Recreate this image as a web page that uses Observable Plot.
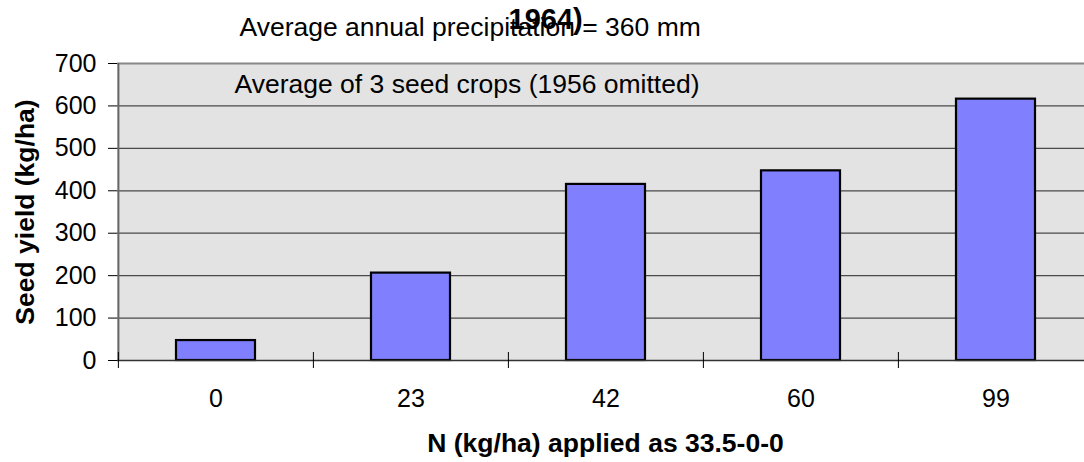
<!DOCTYPE html>
<html>
<head>
<meta charset="utf-8">
<script src="https://cdn.jsdelivr.net/npm/d3@7"></script>
<script src="https://cdn.jsdelivr.net/npm/@observablehq/plot@0.6"></script>
<style>
  html, body { margin: 0; padding: 0; background: #fff; }
  #chart { position: relative; width: 1084px; height: 462px; overflow: hidden; }
</style>
</head>
<body>
<div id="chart"></div>
<script>
// ---- data ----
const nRates = ["0", "23", "42", "60", "99"];
const seedYield = [47, 206, 415, 447, 616];
const yTicks = [0, 100, 200, 300, 400, 500, 600, 700];
const titleText = "Average annual precipitation = 360 mm";
const overTitle = "1964)";
const noteText = "Average of 3 seed crops (1956 omitted)";
const xTitle = "N (kg/ha) applied as 33.5-0-0";
const yTitle = "Seed yield (kg/ha)";

const rows = nRates.map((n, i) => ({n, v: seedYield[i]}));

// ---- layout ----
const W = 1084, H = 462;
const pLeft = 117, pTop = 63, pBottom = 360, pRight = 1093;
const step = (pRight - pLeft) / nRates.length;
const font = "Liberation Sans, Arial, sans-serif";
const tickFont = 25, titleFont = 26.5;

const chart = Plot.plot({
  width: W, height: H,
  marginLeft: pLeft, marginTop: pTop, marginBottom: H - pBottom, marginRight: W - pRight,
  style: {fontFamily: font, background: "#fff", overflow: "hidden"},
  x: {domain: nRates, range: [pLeft, pRight], paddingInner: 0.595, paddingOuter: 0.2975},
  y: {domain: [0, 700], range: [pBottom, pTop]},
  marks: [
    Plot.frame({fill: "#e3e3e3", stroke: null}),
    Plot.ruleY(yTicks.filter(d => d > 0 && d < 700), {y: d => d, stroke: "#4a4a4a", strokeWidth: 1.3}),
    Plot.ruleY([700], {stroke: "#888", strokeWidth: 2}),
    Plot.barY(rows, {x: "n", y: "v", fill: "#8080ff", stroke: "#000", strokeWidth: 2.2}),
    Plot.ruleY([0], {stroke: "#333", strokeWidth: 1.5}),
    Plot.ruleX([nRates[0]], {x: d => d, dx: -step / 2, y1: 0, y2: 700, stroke: "#666", strokeWidth: 2}),
    Plot.axisY({ticks: yTicks, tickSize: 9, tickPadding: 12, fontSize: tickFont, tickFormat: d => d, stroke: "#000", strokeWidth: 1, label: null}),
    Plot.ruleX(nRates, {x: d => d, dx: -step / 2, y1: 0, y2: 0, insetTop: -8, insetBottom: -8, stroke: "#000", strokeWidth: 1}),
    Plot.axisX({tickSize: 0, tickPadding: 29, fontSize: tickFont, label: null}),
    Plot.text([xTitle], {text: d => d, frameAnchor: "bottom", dy: 83.5, fontSize: titleFont, fontWeight: "bold", textAnchor: "middle", lineAnchor: "middle"}),
    Plot.text([yTitle], {text: d => d, frameAnchor: "left", dx: 25 - pLeft, rotate: -90, fontSize: titleFont, fontWeight: "bold", textAnchor: "middle", lineAnchor: "middle"}),
    Plot.text([noteText], {text: d => d, frameAnchor: "top-left", dx: 234 - pLeft, dy: 21, fontSize: titleFont, textAnchor: "start", lineAnchor: "middle"}),
    Plot.text([titleText], {text: d => d, frameAnchor: "top-left", dx: 239 - pLeft, dy: 27.5 - pTop, fontSize: titleFont, textAnchor: "start", lineAnchor: "middle"}),
    Plot.text([overTitle], {text: d => d, frameAnchor: "top-left", dx: 508 - pLeft, dy: 19 - pTop, fontSize: 29, fontWeight: "bold", textAnchor: "start", lineAnchor: "middle"})
  ]
});
document.getElementById("chart").appendChild(chart);
</script>
</body>
</html>
